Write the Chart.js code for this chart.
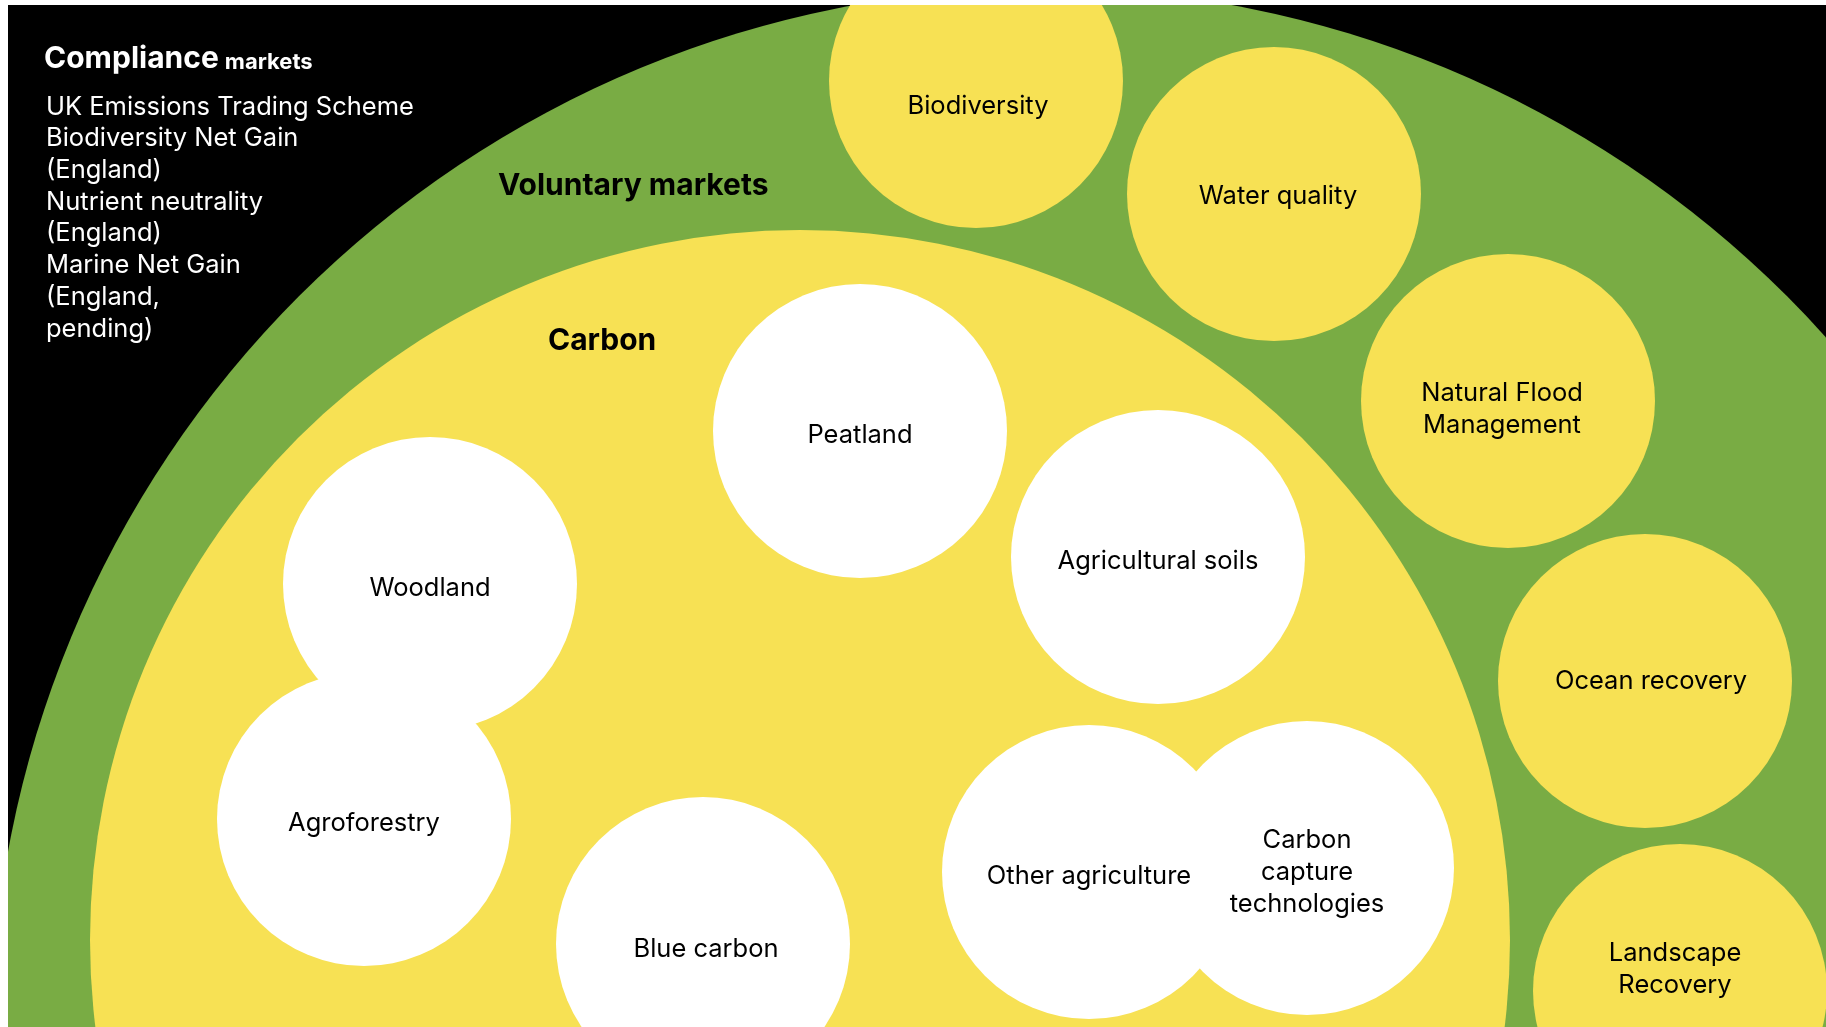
<!DOCTYPE html>
<html>
<head>
<meta charset="utf-8">
<title>Compliance and voluntary markets</title>
<script src="https://cdn.jsdelivr.net/npm/chart.js@4.4.1/dist/chart.umd.min.js"></script>
<style>
  html, body { margin: 0; padding: 0; background: #ffffff; }
  canvas { display: block; }
</style>
</head>
<body>
<canvas id="marketChart" width="1826" height="1027"></canvas>
<script>
// 外圈 / 內圈
const ringNames = ['Voluntary markets', 'Carbon'];
const ringX = [1043, 800];
const ringY = [1040, 940];
const ringR = [1052, 710];

// 自願市場（綠圈內的黃圈）
const voluntaryNames = ['Biodiversity', 'Water quality', 'Natural Flood\nManagement', 'Ocean recovery', 'Landscape\nRecovery'];
const voluntaryX = [976, 1274, 1508, 1645, 1680];
const voluntaryY = [81, 194, 401, 681, 991];

// 碳市場（黃圈內的白圈）
const carbonNames = ['Peatland', 'Agricultural soils', 'Woodland', 'Agroforestry', 'Blue carbon', 'Other agriculture', 'Carbon\ncapture\ntechnologies'];
const carbonX = [860, 1158, 430, 364, 703, 1089, 1307];
const carbonY = [431, 557, 584, 819, 944, 872, 868];

const bubbleR = 147;

// 合規市場清單
const complianceItems = ['UK Emissions Trading Scheme', 'Biodiversity Net Gain', '(England)', 'Nutrient neutrality', '(England)', 'Marine Net Gain', '(England,', 'pending)'];

const green = '#79ac44';
const yellow = '#f7e154';
const fontFamily = 'Inter, "Noto Sans", sans-serif';

// 標籤的小偏移
const labelShift = {
  'Biodiversity': [2, 25],
  'Water quality': [4, 2],
  'Natural Flood\nManagement': [-6, 8],
  'Ocean recovery': [6, 0],
  'Landscape\nRecovery': [-5, -22],
  'Blue carbon': [3, 5]
};

function toPoints(xs, ys, r) {
  return xs.map(function (x, i) { return { x: x, y: ys[i], r: r }; });
}

// 黑色背景
const backgroundPlugin = {
  id: 'blackBg',
  beforeDraw: function (chart) {
    const ctx = chart.ctx;
    const a = chart.chartArea;
    ctx.save();
    ctx.fillStyle = '#000000';
    ctx.fillRect(a.left, a.top, a.right - a.left, a.bottom - a.top);
    ctx.restore();
  }
};

// 文字
const labelPlugin = {
  id: 'labels',
  afterDatasetsDraw: function (chart) {
    const ctx = chart.ctx;
    const xs = chart.scales.x;
    const ys = chart.scales.y;
    ctx.save();
    ctx.textAlign = 'center';
    ctx.textBaseline = 'middle';

    function drawLabels(names, dsIndex) {
      const meta = chart.getDatasetMeta(dsIndex);
      meta.data.forEach(function (el, i) {
        const shift = labelShift[names[i]] || [0, 4];
        const lines = names[i].split('\n');
        const lh = 32;
        const y0 = el.y + shift[1] - (lines.length - 1) * lh / 2;
        lines.forEach(function (line, j) {
          ctx.fillText(line, el.x + shift[0], y0 + j * lh);
        });
      });
    }

    ctx.fillStyle = '#000000';
    ctx.font = '400 25.5px ' + fontFamily;
    drawLabels(voluntaryNames, 2);
    drawLabels(carbonNames, 3);

    // 區域標題
    ctx.textAlign = 'left';
    ctx.font = '700 30px ' + fontFamily;
    ctx.fillText(ringNames[0], xs.getPixelForValue(498), ys.getPixelForValue(186));
    ctx.fillText(ringNames[1], xs.getPixelForValue(548), ys.getPixelForValue(341));

    // 合規市場
    ctx.fillStyle = '#ffffff';
    ctx.font = '700 30px ' + fontFamily;
    ctx.fillText('Compliance', 44, 59);
    const w = ctx.measureText('Compliance ').width;
    ctx.font = '700 22px ' + fontFamily;
    ctx.fillText('markets', 44 + w - 1, 62);

    ctx.font = '400 25.5px ' + fontFamily;
    complianceItems.forEach(function (t, i) {
      ctx.fillText(t, 46, 107 + i * 31.7);
    });
    ctx.restore();
  }
};

const ctx = document.getElementById('marketChart').getContext('2d');
const marketChart = new Chart(ctx, {
  type: 'bubble',
  data: {
    datasets: [{
      label: ringNames[0],
      data: [{ x: ringX[0], y: ringY[0], r: ringR[0] }],
      backgroundColor: green,
      order: 4
    }, {
      label: ringNames[1],
      data: [{ x: ringX[1], y: ringY[1], r: ringR[1] }],
      backgroundColor: yellow,
      order: 3
    }, {
      label: 'Voluntary',
      data: toPoints(voluntaryX, voluntaryY, bubbleR),
      backgroundColor: yellow,
      order: 2
    }, {
      label: 'Carbon types',
      data: toPoints(carbonX, carbonY, bubbleR),
      backgroundColor: '#ffffff',
      order: 1
    }]
  },
  options: {
    responsive: false,
    animation: false,
    events: [],
    clip: 0,
    elements: { point: { borderWidth: 0, hoverRadius: 0 } },
    layout: { autoPadding: false, padding: { left: 8, top: 5, right: 0, bottom: 0 } },
    plugins: { legend: { display: false }, tooltip: { enabled: false } },
    scales: {
      x: { type: 'linear', min: 8, max: 1826, display: false },
      y: { type: 'linear', min: 5, max: 1027, reverse: true, display: false }
    }
  },
  plugins: [backgroundPlugin, labelPlugin]
});
</script>
</body>
</html>
